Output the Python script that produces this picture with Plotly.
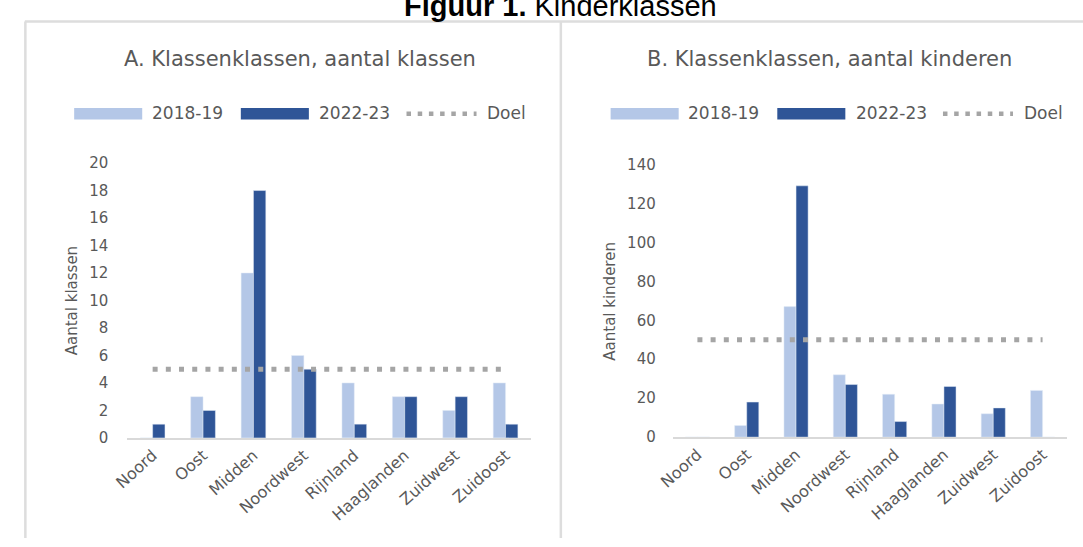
import plotly.graph_objects as go

# ---------------- data ----------------
regions = ["Noord", "Oost", "Midden", "Noordwest", "Rijnland", "Haaglanden", "Zuidwest", "Zuidoost"]
klassen_2018 = [0, 3, 12, 6, 4, 3, 2, 4]
klassen_2022 = [1, 2, 18, 5, 1, 3, 3, 1]
klassen_doel = [5, 5, 5, 5, 5, 5, 5, 5]
kinderen_2018 = [0, 6, 67, 32, 22, 17, 12, 24]
kinderen_2022 = [0, 18, 129, 27, 8, 26, 15, 0]
kinderen_doel = [50, 50, 50, 50, 50, 50, 50, 50]
series_names = ["2018-19", "2022-23", "Doel"]
panel_titles = ["A. Klassenklassen, aantal klassen", "B. Klassenklassen, aantal kinderen"]
y_titles = ["Aantal klassen", "Aantal kinderen"]

# ---------------- style ----------------
W, H = 1083, 547
LIGHT = "#B4C7E7"
DARK = "#2F5597"
GOAL = "#A5A5A5"
TXT = "#595959"
AXL = "#D9D9D9"
FONT = "DejaVu Sans"


def px(x):
    return x / W


def py(y):
    return 1 - y / H


fig = go.Figure()

panels = [
    dict(xa="x", ya="y", d2018=klassen_2018, d2022=klassen_2022, doel=klassen_doel,
         xdom=[px(114), px(523)], ydom=[py(443.5), py(159.3)], yrange=[0, 20], dtick=2),
    dict(xa="x2", ya="y2", d2018=kinderen_2018, d2022=kinderen_2022, doel=kinderen_doel,
         xdom=[px(667), px(1067)], ydom=[py(442.7), py(160.7)], yrange=[0, 140], dtick=20),
]

for i, p in enumerate(panels):
    fig.add_trace(go.Bar(x=regions, y=p["d2018"], name=series_names[0], marker_color=LIGHT,
                         xaxis=p["xa"], yaxis=p["ya"], showlegend=False))
    fig.add_trace(go.Bar(x=regions, y=p["d2022"], name=series_names[1], marker_color=DARK,
                         xaxis=p["xa"], yaxis=p["ya"], showlegend=False))
    fig.add_trace(go.Scatter(x=regions, y=p["doel"], name=series_names[2], mode="lines",
                             line=dict(color=GOAL, width=5, dash="5px,8.2px"),
                             xaxis=p["xa"], yaxis=p["ya"], showlegend=False))
    sfx = "" if i == 0 else "2"
    fig.layout["xaxis" + sfx] = dict(
        domain=p["xdom"], anchor="y" + sfx, showline=True, linecolor=AXL, linewidth=2,
        showgrid=False, zeroline=False, ticks="", tickangle=-42,
        tickfont=dict(family=FONT, size=16, color=TXT), fixedrange=True)
    fig.layout["yaxis" + sfx] = dict(
        domain=p["ydom"], anchor="x" + sfx, range=p["yrange"], dtick=p["dtick"],
        showline=False, showgrid=False, zeroline=False, ticks="",
        ticklabelstandoff=18 if i == 0 else 16,
        tickfont=dict(family=FONT, size=15, color=TXT), fixedrange=True)

# ---------------- text & decorations ----------------
ann = []
shapes = []

# figure title (cut off at the top in the reference)
ann.append(dict(text="<b>Figuur 1.</b> Kinderklassen", x=px(553.5), y=py(-3), xref="paper", yref="paper",
                xanchor="center", yanchor="middle", showarrow=False,
                font=dict(family="Liberation Sans", size=29, color="#000000")))

# panel frame lines
for (x0, y0, x1, y1) in [(10.5, 13, 10.5, 547), (10, 13, 1083, 13), (553.5, 13, 553.5, 547)]:
    shapes.append(dict(type="line", xref="paper", yref="paper", x0=px(x0), y0=py(y0), x1=px(x1), y1=py(y1),
                       line=dict(color="#DDDDDD", width=2.5)))

title_cx = [289, 826]
ytitle_cx = [58, 603]
ytitle_cy = [302, 302]
legend_off = [0, 544]
for i in range(2):
    ann.append(dict(text=panel_titles[i], x=px(title_cx[i]), y=py(51.5), xref="paper", yref="paper",
                    xanchor="center", yanchor="middle", showarrow=False,
                    font=dict(family=FONT, size=21, color=TXT)))
    ann.append(dict(text=y_titles[i], x=px(ytitle_cx[i]), y=py(ytitle_cy[i]), xref="paper", yref="paper",
                    xanchor="center", yanchor="middle", showarrow=False, textangle=-90,
                    font=dict(family=FONT, size=15, color=TXT)))
    o = legend_off[i]
    # legend swatches
    shapes.append(dict(type="rect", xref="paper", yref="paper", x0=px(60 + o), x1=px(129 + o),
                       y0=py(114.3), y1=py(102.3), fillcolor=LIGHT, line=dict(width=0)))
    shapes.append(dict(type="rect", xref="paper", yref="paper", x0=px(229 + o), x1=px(298 + o),
                       y0=py(114.3), y1=py(102.3), fillcolor=DARK, line=dict(width=0)))
    shapes.append(dict(type="line", xref="paper", yref="paper", x0=px(397 + o), x1=px(468 + o),
                       y0=py(108.3), y1=py(108.3), line=dict(color=GOAL, width=4.5, dash="4.5px,6.7px")))
    for name, lx in zip(series_names, [136.7, 306.7, 476.7]):
        ann.append(dict(text=name, x=px(lx + o), y=py(108), xref="paper", yref="paper",
                        xanchor="left", yanchor="middle", showarrow=False,
                        font=dict(family=FONT, size=17, color=TXT)))

fig.update_layout(
    width=W, height=H, margin=dict(l=0, r=0, t=0, b=0),
    paper_bgcolor="white", plot_bgcolor="white",
    barmode="group", bargap=0.51, bargroupgap=0,
    annotations=ann, shapes=shapes, showlegend=False,
    font=dict(family=FONT, color=TXT),
)

fig.write_html("out.html", config={"displayModeBar": False},
               post_script="document.body.style.margin='0';document.body.style.overflow='hidden';")
